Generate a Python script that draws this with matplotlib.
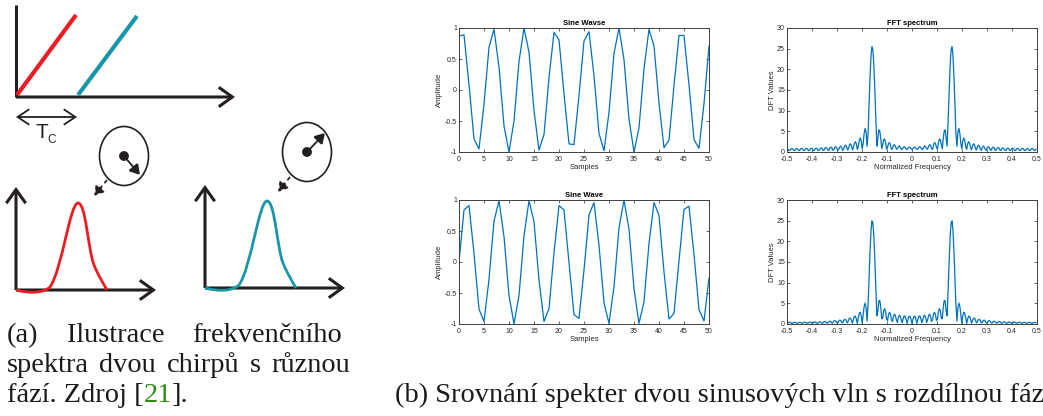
import numpy as np
import matplotlib
matplotlib.use('Agg')
import matplotlib.pyplot as plt
from matplotlib.patches import Ellipse, FancyArrowPatch, PathPatch, Circle
from matplotlib.path import Path

# ---------------- data ----------------
samples = list(range(51))
wave_top = [0.87, 0.89, 0.09, -0.79, -0.95, -0.23, 0.69, 0.98, 0.37, -0.58, -1.00, -0.50, 0.46, 1.00,
            0.61, -0.33, -0.97, -0.72, 0.20, 0.93, 0.81, -0.06, -0.87, -0.88, -0.09, 0.79, 0.94, 0.23,
            -0.70, -0.98, -0.36, 0.59, 1.00, 0.49, -0.47, -1.00, -0.61, 0.34, 0.98, 0.71, -0.21, -0.93,
            -0.81, 0.07, 0.88, 0.88, 0.08, -0.80, -0.94, -0.22, 0.71]
wave_bottom = [0.00, 0.84, 0.91, 0.14, -0.76, -0.96, -0.28, 0.66, 0.99, 0.41, -0.54, -1.00, -0.54, 0.42,
               0.99, 0.65, -0.29, -0.96, -0.75, 0.15, 0.91, 0.84, -0.01, -0.85, -0.91, -0.13, 0.76, 0.96,
               0.27, -0.66, -0.99, -0.40, 0.55, 1.00, 0.53, -0.43, -0.99, -0.64, 0.30, 0.96, 0.75, -0.16,
               -0.92, -0.83, 0.02, 0.85, 0.90, 0.12, -0.77, -0.95, -0.26]
nfft = 256
sine_titles = ["Sine Wavse", "Sine Wave"]
fft_title = "FFT spectrum"
sine_xticks = [0, 5, 10, 15, 20, 25, 30, 35, 40, 45, 50]
sine_yticks = [-1, -0.5, 0, 0.5, 1]
sine_yticklabels = ["-1", "-0.5", "0", "0.5", "1"]
fft_xticks = [-0.5, -0.4, -0.3, -0.2, -0.1, 0, 0.1, 0.2, 0.3, 0.4, 0.5]
fft_xticklabels = ["-0.5", "-0.4", "-0.3", "-0.2", "-0.1", "0", "0.1", "0.2", "0.3", "0.4", "0.5"]
fft_yticks = [0, 5, 10, 15, 20, 25, 30]

caption_a_line1 = ["(a)", "Ilustrace", "frekvenčního"]
caption_a_line2 = ["spektra", "dvou", "chirpů", "s", "různou"]
caption_a_line3 = ["fází. Zdroj [", "21", "]."]
caption_b = "(b) Srovnání spekter dvou sinusových vln s rozdílnou fázi."

# ---------------- figure ----------------
W, H = 1043, 416
fig = plt.figure(figsize=(W / 100, H / 100), dpi=100)
ov = fig.add_axes([0, 0, 1, 1])
ov.set_xlim(0, W)
ov.set_ylim(H, 0)
ov.axis('off')

INK = '#231f20'
RED = '#ed1c24'
TEAL = '#1a97a7'


def arrow(p0, p1, style='->', lw=2.2, ms=14, ls='-', color=INK):
    a = FancyArrowPatch(p0, p1, arrowstyle=style, mutation_scale=ms, lw=lw, color=color,
                        shrinkA=0, shrinkB=0, linestyle=ls, joinstyle='miter', capstyle='butt')
    ov.add_patch(a)


# top diagram
ov.plot([16, 16], [5, 97], color=INK, lw=2.2, solid_capstyle='butt')
arrow((16, 97), (235, 97), style='->,head_length=0.7,head_width=0.5')
ov.plot([17, 76], [95, 15], color=RED, lw=3.0, solid_capstyle='butt')
ov.plot([78, 137], [95, 16], color=TEAL, lw=3.0, solid_capstyle='butt')
arrow((16, 117), (77, 117), style='<->,head_length=0.6,head_width=0.4', lw=1.3)
ov.text(42, 138, "T", fontsize=15, family='Liberation Sans', color=INK, ha='center', va='baseline')
ov.text(52, 143, "C", fontsize=8.5, family='Liberation Sans', color=INK, ha='center', va='baseline')


def chirp_panel(x0, y0, color, peak_dx, circle_c, inner_dir, dash_from, dash_to):
    arrow((x0, y0), (x0, y0 - 103), style='->,head_length=0.7,head_width=0.5')
    arrow((x0, y0), (x0 + 140, y0), style='->,head_length=0.7,head_width=0.5')
    px = x0 + peak_dx
    verts = [(x0, y0), (x0 + 12, y0 + 3), (x0 + 26, y0 + 4), (x0 + 34, y0 - 3),
             (px - 16, y0 - 20), (px - 8, y0 - 87), (px, y0 - 87),
             (px + 8, y0 - 87), (px + 10, y0 - 40), (px + 16, y0 - 25),
             (px + 20, y0 - 15), (px + 25, y0 - 7), (px + 29, y0)]
    codes = [Path.MOVETO] + [Path.CURVE4] * 12
    ov.add_patch(PathPatch(Path(verts, codes), fill=False, edgecolor=color, lw=2.0))
    cx, cy = circle_c
    ov.add_patch(Ellipse((cx, cy), 49, 59, fill=False, edgecolor=INK, lw=1.2))
    ov.add_patch(Circle((cx, cy), 4.2, color=INK))
    arrow((cx, cy), (cx + inner_dir[0], cy + inner_dir[1]), style='-|>,head_length=0.5,head_width=0.3',
          lw=1.3, ms=12)
    arrow(dash_from, dash_to, style='-|>,head_length=0.5,head_width=0.3', lw=1.2, ms=12, ls=(0, (2.5, 2)))


chirp_panel(16, 290, RED, 62, (124, 156), (16, 19), (107, 180), (94, 196))
chirp_panel(205, 288, TEAL, 62, (307, 152), (18, -19), (290, 177), (278, 192))

# ---------------- MATLAB-like plots ----------------
BLUE = '#0072bd'
GRAY = '#262626'


def style_ax(ax):
    for s in ax.spines.values():
        s.set_linewidth(0.7)
        s.set_color('#404040')
    ax.tick_params(direction='in', length=2.2, width=0.5, top=True, right=True, labelsize=5,
                   colors=GRAY, pad=1.5)
    ax.tick_params(axis='x', pad=2.6)
    for lab in ax.get_xticklabels() + ax.get_yticklabels():
        lab.set_family('Liberation Sans')


def to_fig(x, y, w, h):
    return [x / W, 1 - (y + h) / H, w / W, h / H]


def fft_mag(x):
    X = np.fft.fftshift(np.abs(np.fft.fft(np.asarray(x), nfft)))
    f = np.arange(-nfft // 2, nfft // 2) / nfft
    return f, X


rows = [(28, wave_top, sine_titles[0]), (200, wave_bottom, sine_titles[1])]
for (ytop, wave, title) in rows:
    ax = fig.add_axes(to_fig(459, ytop, 250, 124))
    ax.plot(samples, wave, color=BLUE, lw=0.9)
    ax.set_xlim(0, 50)
    ax.set_ylim(-1, 1)
    ax.set_xticks(sine_xticks)
    ax.set_yticks(sine_yticks)
    ax.set_yticklabels(sine_yticklabels)
    style_ax(ax)
    ax.set_title(title, fontsize=5.5, fontweight='bold', family='Liberation Sans', pad=2, color='#000000')
    ax.set_xlabel("Samples", fontsize=5.5, family='Liberation Sans', color=GRAY, labelpad=1)
    ax.set_ylabel("Amplitude", fontsize=5.5, family='Liberation Sans', color=GRAY, labelpad=1)

    ax2 = fig.add_axes(to_fig(787, ytop, 250, 124))
    f, X = fft_mag(wave)
    ax2.plot(f, X, color=BLUE, lw=0.9)
    ax2.set_xlim(-0.5, 0.5)
    ax2.set_ylim(0, 30)
    ax2.set_xticks(fft_xticks)
    ax2.set_xticklabels(fft_xticklabels)
    ax2.set_yticks(fft_yticks)
    style_ax(ax2)
    ax2.set_title(fft_title, fontsize=5.5, fontweight='bold', family='Liberation Sans', pad=2, color='#000000')
    ax2.set_xlabel("Normalized Frequency", fontsize=5.5, family='Liberation Sans', color=GRAY, labelpad=1)
    ax2.set_ylabel("DFT Values", fontsize=5.5, family='Liberation Sans', color=GRAY, labelpad=1)

# ---------------- captions ----------------
SERIF = 'Liberation Serif'
TXT = '#1a1a1a'
renderer = fig.canvas.get_renderer()


def width_of(t):
    return t.get_window_extent(renderer=renderer).width


probe = ov.text(0, 0, " ".join(caption_a_line2), fontsize=17, family=SERIF)
fs = 17 * 330 / width_of(probe)
probe.remove()


def justify(words, x0, x1, y):
    widths = []
    for w_ in words:
        t = ov.text(0, 0, w_, fontsize=fs, family=SERIF)
        widths.append(width_of(t))
        t.remove()
    gap = (x1 - x0 - sum(widths)) / (len(words) - 1)
    x = x0
    for w_, wd in zip(words, widths):
        ov.text(x, y, w_, fontsize=fs, family=SERIF, color=TXT, va='baseline', ha='left')
        x += wd + gap


justify(caption_a_line1, 7, 342, 342)
justify(caption_a_line2, 7, 350, 372)
x = 7
for i, piece in enumerate(caption_a_line3):
    t = ov.text(x, 402, piece, fontsize=fs, family=SERIF, va='baseline', ha='left',
                color='#2e8b12' if piece == "21" else TXT)
    x += width_of(t)
ov.text(395, 402, caption_b, fontsize=fs, family=SERIF, color=TXT, va='baseline', ha='left')

fig.savefig('out.png', dpi=100)
